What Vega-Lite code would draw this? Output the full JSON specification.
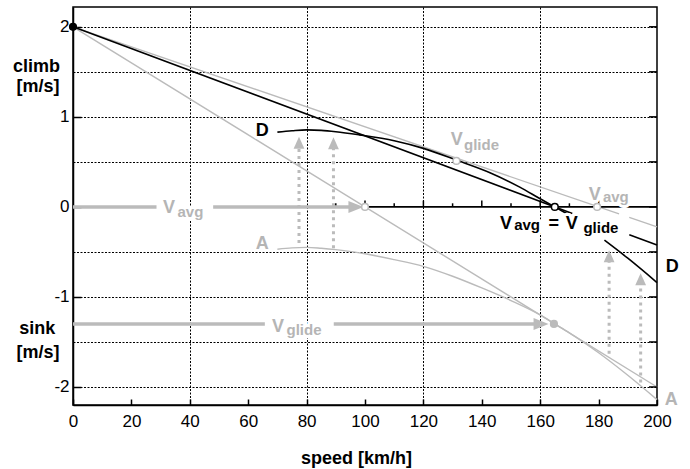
{
  "$schema": "https://vega.github.io/schema/vega-lite/v6.json",
  "width": 584,
  "height": 398,
  "autosize": {"type": "none"},
  "padding": {"left": 73, "top": 7, "right": 33, "bottom": 64},
  "background": "white",
  "config": {
    "font": "Liberation Sans",
    "view": {"stroke": "black", "strokeWidth": 1.5}
  },
  "resolve": {"axis": {"x": "independent", "y": "independent"}},
  "datasets": {
    "gl": [
      {"s": "g1a", "x": 0, "y": 2}, {"s": "g1a", "x": 187, "y": -0.078},
      {"s": "g1b", "x": 190.5, "y": -0.117}, {"s": "g1b", "x": 200, "y": -0.222},
      {"s": "g2", "x": 0, "y": 2}, {"s": "g2", "x": 200, "y": -2},
      {"s": "A", "x": 70, "y": -0.47}, {"s": "A", "x": 75, "y": -0.455}, {"s": "A", "x": 80, "y": -0.45},
      {"s": "A", "x": 85, "y": -0.46}, {"s": "A", "x": 90, "y": -0.475}, {"s": "A", "x": 96, "y": -0.5},
      {"s": "A", "x": 100, "y": -0.52}, {"s": "A", "x": 110, "y": -0.585}, {"s": "A", "x": 120, "y": -0.66},
      {"s": "A", "x": 130, "y": -0.77}, {"s": "A", "x": 140, "y": -0.9}, {"s": "A", "x": 150, "y": -1.04},
      {"s": "A", "x": 160, "y": -1.2}, {"s": "A", "x": 165, "y": -1.3}, {"s": "A", "x": 170, "y": -1.4},
      {"s": "A", "x": 180, "y": -1.62}, {"s": "A", "x": 190, "y": -1.87}, {"s": "A", "x": 200, "y": -2.14}
    ],
    "bl": [
      {"s": "b1a", "x": 0, "y": 2}, {"s": "b1a", "x": 171, "y": -0.073},
      {"s": "b1b", "x": 190.5, "y": -0.309}, {"s": "b1b", "x": 200, "y": -0.424},
      {"s": "z", "x": 100, "y": 0}, {"s": "z", "x": 200, "y": 0},
      {"s": "Da", "x": 70, "y": 0.83}, {"s": "Da", "x": 75, "y": 0.845}, {"s": "Da", "x": 80, "y": 0.855},
      {"s": "Da", "x": 85, "y": 0.85}, {"s": "Da", "x": 90, "y": 0.835}, {"s": "Da", "x": 98, "y": 0.8},
      {"s": "Da", "x": 110, "y": 0.735}, {"s": "Da", "x": 120, "y": 0.65}, {"s": "Da", "x": 131.3, "y": 0.52},
      {"s": "Da", "x": 142.8, "y": 0.38}, {"s": "Da", "x": 153, "y": 0.22}, {"s": "Da", "x": 160, "y": 0.09},
      {"s": "Da", "x": 165, "y": 0.0}, {"s": "Da", "x": 170, "y": -0.09},
      {"s": "Db", "x": 182, "y": -0.37}, {"s": "Db", "x": 190, "y": -0.57}, {"s": "Db", "x": 200, "y": -0.84}
    ],
    "rt": [
      {"y": -2}, {"y": -1.5}, {"y": -1}, {"y": -0.5}, {"y": 0}, {"y": 0.5}, {"y": 1}, {"y": 1.5}, {"y": 2}
    ],
    "zt": [
      {"x": 90, "h": "m"}, {"x": 100, "h": "M"}, {"x": 110, "h": "m"}, {"x": 120, "h": "M"},
      {"x": 130, "h": "m"}, {"x": 140, "h": "M"}, {"x": 150, "h": "m"}, {"x": 160, "h": "M"},
      {"x": 170, "h": "m"}, {"x": 180, "h": "M"}, {"x": 190, "h": "m"}
    ],
    "ar": [
      {"s": "a1", "x": 0, "y": 0}, {"s": "a1", "x": 28.6, "y": 0},
      {"s": "a2", "x": 48, "y": 0}, {"s": "a2", "x": 96, "y": 0},
      {"s": "a3", "x": 0, "y": -1.3}, {"s": "a3", "x": 65.7, "y": -1.3},
      {"s": "a4", "x": 89.3, "y": -1.3}, {"s": "a4", "x": 159.5, "y": -1.3}
    ],
    "ah": [{"x": 96.9, "y": 0}, {"x": 160.3, "y": -1.3}],
    "da": [
      {"x": 77.4, "y": -0.4, "y2": 0.713}, {"x": 89.2, "y": -0.46, "y2": 0.708},
      {"x": 183.6, "y": -1.63, "y2": -0.548}, {"x": 194.4, "y": -1.95, "y2": -0.803}
    ],
    "uh": [{"x": 77.4, "y": 0.713}, {"x": 89.2, "y": 0.708}, {"x": 183.6, "y": -0.548}, {"x": 194.4, "y": -0.803}],
    "pt": [
      {"x": 0, "y": 2, "k": "bf"}, {"x": 100, "y": 0, "k": "go"}, {"x": 131.3, "y": 0.51, "k": "go"},
      {"x": 179.5, "y": 0, "k": "go"}, {"x": 165, "y": 0, "k": "bo"}, {"x": 164.7, "y": -1.3, "k": "gf"}
    ],
    "tx": [
      {"x": 64.8, "y": 0.785, "t": "D", "k": "bigB"},
      {"x": 205.2, "y": -0.722, "t": "D", "k": "bigB"},
      {"x": 148.3, "y": -0.24, "t": "V", "k": "bigB"},
      {"x": 164.6, "y": -0.24, "t": "=", "k": "bigB"},
      {"x": 170.8, "y": -0.24, "t": "V", "k": "bigB"},
      {"x": 155.5, "y": -0.259, "t": "avg", "k": "subB"},
      {"x": 180.8, "y": -0.285, "t": "glide", "k": "subB"},
      {"x": 64.8, "y": -0.473, "t": "A", "k": "bigG"},
      {"x": 204.9, "y": -2.203, "t": "A", "k": "bigG"},
      {"x": 32.9, "y": -0.073, "t": "V", "k": "bigG"},
      {"x": 40.2, "y": -0.11, "t": "avg", "k": "subG"},
      {"x": 70.2, "y": -1.389, "t": "V", "k": "bigG"},
      {"x": 79.1, "y": -1.426, "t": "glide", "k": "subG"},
      {"x": 131.4, "y": 0.69, "t": "V", "k": "bigG"},
      {"x": 139.9, "y": 0.63, "t": "glide", "k": "subG"},
      {"x": 178.7, "y": 0.074, "t": "V", "k": "bigG"},
      {"x": 185.9, "y": 0.056, "t": "avg", "k": "subG"},
      {"x": -12.5, "y": 1.5, "t": "climb", "k": "side"},
      {"x": -12, "y": 1.278, "t": "[m/s]", "k": "side"},
      {"x": -12.2, "y": -1.407, "t": "sink", "k": "side"},
      {"x": -12, "y": -1.673, "t": "[m/s]", "k": "side"}
    ]
  },
  "layer": [
    {
      "data": {"name": "gl"},
      "mark": {"type": "line", "color": "#bbbbbb", "strokeWidth": 1.4, "interpolate": "monotone"},
      "encoding": {
        "x": {
          "field": "x", "type": "quantitative",
          "scale": {"domain": [0, 200], "nice": false, "zero": false},
          "axis": {
            "orient": "bottom",
            "values": [0, 20, 40, 60, 80, 100, 120, 140, 160, 180, 200],
            "title": "speed [km/h]",
            "titleFont": "Liberation Sans", "titleFontSize": 18, "titleFontWeight": "bold", "titleColor": "black",
            "titleX": 283, "titleY": 58, "titleBaseline": "alphabetic", "titleAlign": "center", "titleAnchor": "start",
            "grid": true, "gridColor": "black", "gridDash": [2, 1.5], "gridWidth": 1,
            "gridOpacity": {"condition": {"test": "datum.value % 40 !== 0 || datum.value === 0 || datum.value === 200", "value": 0}, "value": 1},
            "ticks": true, "tickSize": -6, "tickColor": "black", "tickWidth": 1.5,
            "labelFont": "Liberation Sans", "labelFontSize": 17, "labelColor": "black", "labelPadding": 14,
            "domainColor": "black", "domainWidth": 1.5, "labelFlush": false
          }
        },
        "y": {
          "field": "y", "type": "quantitative",
          "scale": {"domain": [-2.2, 2.22], "nice": false, "zero": false},
          "axis": {
            "orient": "left",
            "values": [-2, -1.5, -1, -0.5, 0, 0.5, 1, 1.5, 2],
            "title": null,
            "labelExpr": "datum.value % 1 === 0 ? '' + datum.value : ''",
            "grid": true, "gridColor": "black", "gridDash": [2, 1.5], "gridWidth": 1,
            "gridOpacity": {"condition": {"test": "datum.value === 0", "value": 0}, "value": 1},
            "ticks": true, "tickSize": -8, "tickColor": "black", "tickWidth": 1.5,
            "tickOpacity": {"condition": {"test": "datum.value % 1 !== 0", "value": 0}, "value": 1},
            "labelFont": "Liberation Sans", "labelFontSize": 17, "labelColor": "black", "labelPadding": 12,
            "domainColor": "black", "domainWidth": 1.5, "labelFlush": false
          }
        },
        "detail": {"field": "s"}
      }
    },
    {
      "data": {"name": "rt"},
      "mark": {"type": "rule", "color": "black", "strokeWidth": 1.5},
      "encoding": {
        "x": {"datum": 197.26, "type": "quantitative", "scale": {"domain": [0, 200], "nice": false, "zero": false}, "axis": null},
        "x2": {"datum": 200},
        "y": {"field": "y", "type": "quantitative", "scale": {"domain": [-2.2, 2.22], "nice": false, "zero": false}, "axis": null}
      }
    },
    {
      "data": {"name": "zt"},
      "transform": [{"filter": "datum.h === 'M'"}],
      "mark": {"type": "rule", "color": "black", "strokeWidth": 1.5},
      "encoding": {
        "x": {"field": "x", "type": "quantitative", "scale": {"domain": [0, 200], "nice": false, "zero": false}, "axis": null},
        "y": {"datum": 0, "type": "quantitative", "scale": {"domain": [-2.2, 2.22], "nice": false, "zero": false}, "axis": null},
        "y2": {"datum": 0.07}
      }
    },
    {
      "data": {"name": "zt"},
      "transform": [{"filter": "datum.h === 'm'"}],
      "mark": {"type": "rule", "color": "black", "strokeWidth": 1.5},
      "encoding": {
        "x": {"field": "x", "type": "quantitative", "scale": {"domain": [0, 200], "nice": false, "zero": false}, "axis": null},
        "y": {"datum": 0, "type": "quantitative", "scale": {"domain": [-2.2, 2.22], "nice": false, "zero": false}, "axis": null},
        "y2": {"datum": 0.04}
      }
    },
    {
      "data": {"name": "bl"},
      "mark": {"type": "line", "color": "black", "strokeWidth": 1.6, "interpolate": "monotone"},
      "encoding": {
        "x": {"field": "x", "type": "quantitative", "scale": {"domain": [0, 200], "nice": false, "zero": false}, "axis": null},
        "y": {"field": "y", "type": "quantitative", "scale": {"domain": [-2.2, 2.22], "nice": false, "zero": false}, "axis": null},
        "detail": {"field": "s"}
      }
    },
    {
      "data": {"name": "ar"},
      "mark": {"type": "line", "color": "#bbbbbb", "strokeWidth": 3.5, "strokeCap": "butt"},
      "encoding": {
        "x": {"field": "x", "type": "quantitative", "scale": {"domain": [0, 200], "nice": false, "zero": false}, "axis": null},
        "y": {"field": "y", "type": "quantitative", "scale": {"domain": [-2.2, 2.22], "nice": false, "zero": false}, "axis": null},
        "detail": {"field": "s"}
      }
    },
    {
      "data": {"name": "ah"},
      "mark": {"type": "point", "shape": "M-1,-0.8L1,0L-1,0.8Z", "size": 225, "filled": true, "color": "#bbbbbb", "opacity": 1},
      "encoding": {
        "x": {"field": "x", "type": "quantitative", "scale": {"domain": [0, 200], "nice": false, "zero": false}, "axis": null},
        "y": {"field": "y", "type": "quantitative", "scale": {"domain": [-2.2, 2.22], "nice": false, "zero": false}, "axis": null}
      }
    },
    {
      "data": {"name": "da"},
      "mark": {"type": "rule", "color": "#bbbbbb", "strokeWidth": 3, "strokeDash": [3, 4], "strokeCap": "butt"},
      "encoding": {
        "x": {"field": "x", "type": "quantitative", "scale": {"domain": [0, 200], "nice": false, "zero": false}, "axis": null},
        "y": {"field": "y", "type": "quantitative", "scale": {"domain": [-2.2, 2.22], "nice": false, "zero": false}, "axis": null},
        "y2": {"field": "y2"}
      }
    },
    {
      "data": {"name": "uh"},
      "mark": {"type": "point", "shape": "M-0.9,1L0,-1L0.9,1Z", "size": 144, "filled": true, "color": "#bbbbbb", "opacity": 1},
      "encoding": {
        "x": {"field": "x", "type": "quantitative", "scale": {"domain": [0, 200], "nice": false, "zero": false}, "axis": null},
        "y": {"field": "y", "type": "quantitative", "scale": {"domain": [-2.2, 2.22], "nice": false, "zero": false}, "axis": null}
      }
    },
    {
      "data": {"name": "tx"},
      "transform": [{"filter": "datum.k === 'bigB' || datum.k === 'bigG'"}],
      "mark": {"type": "text", "font": "Liberation Sans", "fontSize": 18, "fontWeight": "bold", "align": "center", "baseline": "alphabetic", "fill": "white", "stroke": "white", "strokeWidth": 6, "strokeJoin": "round"},
      "encoding": {
        "x": {"field": "x", "type": "quantitative", "scale": {"domain": [0, 200], "nice": false, "zero": false}, "axis": null},
        "y": {"field": "y", "type": "quantitative", "scale": {"domain": [-2.2, 2.22], "nice": false, "zero": false}, "axis": null},
        "text": {"field": "t"}
      }
    },
    {
      "data": {"name": "tx"},
      "transform": [{"filter": "datum.k === 'subB' || datum.k === 'subG'"}],
      "mark": {"type": "text", "font": "Liberation Sans", "fontSize": 15, "fontWeight": "bold", "align": "center", "baseline": "alphabetic", "fill": "white", "stroke": "white", "strokeWidth": 6, "strokeJoin": "round"},
      "encoding": {
        "x": {"field": "x", "type": "quantitative", "scale": {"domain": [0, 200], "nice": false, "zero": false}, "axis": null},
        "y": {"field": "y", "type": "quantitative", "scale": {"domain": [-2.2, 2.22], "nice": false, "zero": false}, "axis": null},
        "text": {"field": "t"}
      }
    },
    {
      "data": {"name": "pt"},
      "mark": {"type": "point", "shape": "circle", "size": 45, "strokeWidth": 1.5, "opacity": 1, "fillOpacity": 1},
      "encoding": {
        "x": {"field": "x", "type": "quantitative", "scale": {"domain": [0, 200], "nice": false, "zero": false}, "axis": null},
        "y": {"field": "y", "type": "quantitative", "scale": {"domain": [-2.2, 2.22], "nice": false, "zero": false}, "axis": null},
        "fill": {"field": "k", "type": "nominal", "scale": {"domain": ["bf", "go", "bo", "gf"], "range": ["black", "white", "white", "#bbbbbb"]}, "legend": null},
        "stroke": {"field": "k", "type": "nominal", "scale": {"domain": ["bf", "go", "bo", "gf"], "range": ["black", "#bbbbbb", "black", "#bbbbbb"]}, "legend": null}
      }
    },
    {
      "data": {"name": "tx"},
      "transform": [{"filter": "datum.k === 'bigB'"}],
      "mark": {"type": "text", "font": "Liberation Sans", "fontSize": 18, "fontWeight": "bold", "align": "center", "baseline": "alphabetic", "color": "black"},
      "encoding": {
        "x": {"field": "x", "type": "quantitative", "scale": {"domain": [0, 200], "nice": false, "zero": false}, "axis": null},
        "y": {"field": "y", "type": "quantitative", "scale": {"domain": [-2.2, 2.22], "nice": false, "zero": false}, "axis": null},
        "text": {"field": "t"}
      }
    },
    {
      "data": {"name": "tx"},
      "transform": [{"filter": "datum.k === 'subB'"}],
      "mark": {"type": "text", "font": "Liberation Sans", "fontSize": 15, "fontWeight": "bold", "align": "center", "baseline": "alphabetic", "color": "black"},
      "encoding": {
        "x": {"field": "x", "type": "quantitative", "scale": {"domain": [0, 200], "nice": false, "zero": false}, "axis": null},
        "y": {"field": "y", "type": "quantitative", "scale": {"domain": [-2.2, 2.22], "nice": false, "zero": false}, "axis": null},
        "text": {"field": "t"}
      }
    },
    {
      "data": {"name": "tx"},
      "transform": [{"filter": "datum.k === 'bigG'"}],
      "mark": {"type": "text", "font": "Liberation Sans", "fontSize": 18, "fontWeight": "bold", "align": "center", "baseline": "alphabetic", "color": "#b5b5b5"},
      "encoding": {
        "x": {"field": "x", "type": "quantitative", "scale": {"domain": [0, 200], "nice": false, "zero": false}, "axis": null},
        "y": {"field": "y", "type": "quantitative", "scale": {"domain": [-2.2, 2.22], "nice": false, "zero": false}, "axis": null},
        "text": {"field": "t"}
      }
    },
    {
      "data": {"name": "tx"},
      "transform": [{"filter": "datum.k === 'subG'"}],
      "mark": {"type": "text", "font": "Liberation Sans", "fontSize": 15, "fontWeight": "bold", "align": "center", "baseline": "alphabetic", "color": "#b5b5b5"},
      "encoding": {
        "x": {"field": "x", "type": "quantitative", "scale": {"domain": [0, 200], "nice": false, "zero": false}, "axis": null},
        "y": {"field": "y", "type": "quantitative", "scale": {"domain": [-2.2, 2.22], "nice": false, "zero": false}, "axis": null},
        "text": {"field": "t"}
      }
    },
    {
      "data": {"name": "tx"},
      "transform": [{"filter": "datum.k === 'side'"}],
      "mark": {"type": "text", "font": "Liberation Sans", "fontSize": 18, "fontWeight": "bold", "align": "center", "baseline": "alphabetic", "color": "black"},
      "encoding": {
        "x": {"field": "x", "type": "quantitative", "scale": {"domain": [0, 200], "nice": false, "zero": false}, "axis": null},
        "y": {"field": "y", "type": "quantitative", "scale": {"domain": [-2.2, 2.22], "nice": false, "zero": false}, "axis": null},
        "text": {"field": "t"}
      }
    }
  ]
}
